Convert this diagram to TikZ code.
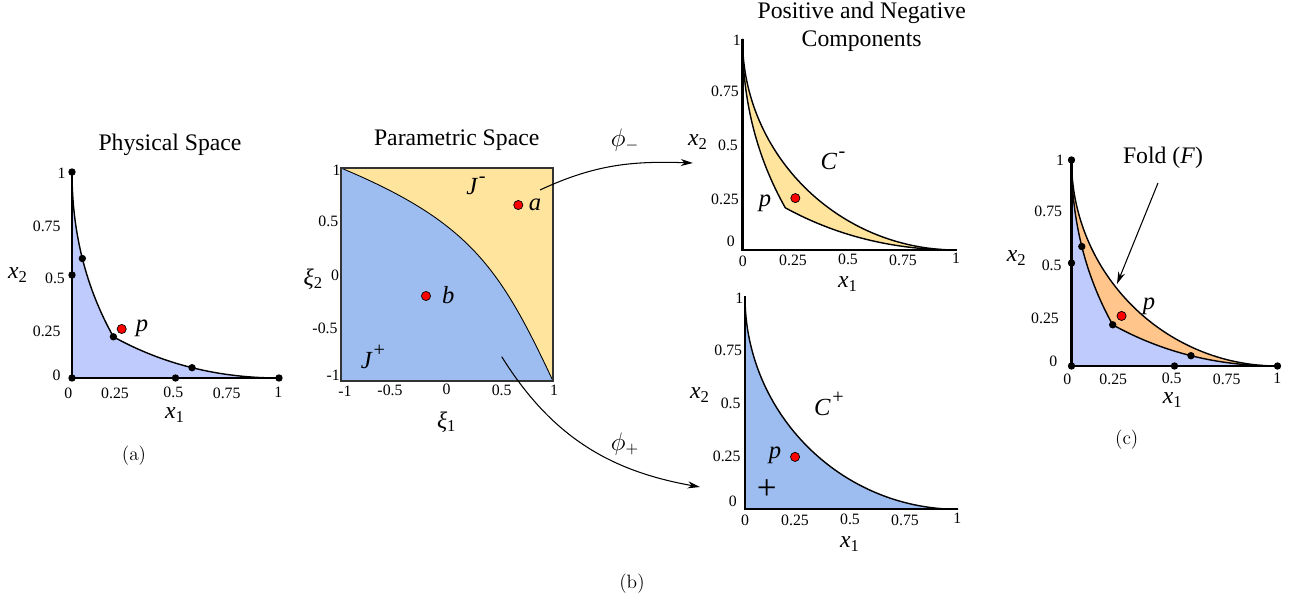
\documentclass[tikz,border=0pt]{standalone}
\usepackage{fontspec}
\usetikzlibrary{arrows.meta}
\newfontfamily\tms{Liberation Serif}

\definecolor{physblue}{HTML}{BFCBFD}
\definecolor{parblue}{HTML}{9DBDF0}
\definecolor{paryellow}{HTML}{FFE49E}
\definecolor{foldorange}{HTML}{FFC58A}

\newcommand{\axv}[2]{{\itshape #1}\textsubscript{#2}}
\newcommand{\supr}[1]{\kern1pt\raisebox{1.1ex}{\upshape\fontsize{11.5}{11.5}\selectfont #1}}

\tikzset{
  ticklbl/.style={font=\tms\fontsize{9}{10}\selectfont, inner sep=0pt},
  axlbl/.style={font=\tms\fontsize{13.5}{16}\selectfont, inner sep=0pt},
  ptlbl/.style={font=\tms\itshape\fontsize{14}{16}\selectfont, inner sep=0pt},
  ttl/.style={font=\tms\fontsize{13.5}{16}\selectfont, inner sep=0pt, align=center},
  subcap/.style={font=\fontsize{11}{13}\selectfont, inner sep=0pt},
  blackdot/.style={circle, fill=black, inner sep=0pt, minimum size=4.2pt},
  reddot/.style={circle, fill=red, draw=black, line width=0.4pt, inner sep=0pt, minimum size=5.2pt},
  axis/.style={line width=1.2pt},
  curve/.style={line width=0.8pt},
  maparrow/.style={-{Stealth[length=7pt,width=4pt]}, line width=0.6pt}
}

\begin{document}
\begin{tikzpicture}[x=0.02cm, y=-0.02cm]
    \useasboundingbox (0,0) rectangle (1296,604);

    % (a) physical space
    \begin{scope}[shift={(72,378)}, xscale=207, yscale=-206]
        \fill[physblue] (0,0) -- (0,1) .. controls (0,0.707) and (0.0667,0.44) .. (0.2,0.2)
            .. controls (0.44,0.0667) and (0.707,0) .. (1,0) -- cycle;
        \draw[curve] (0,1) .. controls (0,0.707) and (0.0667,0.44) .. (0.2,0.2)
            .. controls (0.44,0.0667) and (0.707,0) .. (1,0);
        \draw[axis] (0,1) -- (0,0) -- (1,0);
        \node[blackdot] (a1) at (0,1) {};
        \node[blackdot] (a2) at (0,0.5) {};
        \node[blackdot] (a3) at (0,0) {};
        \node[blackdot] (a4) at (0.5,0) {};
        \node[blackdot] (a5) at (1,0) {};
        \node[blackdot] (a6) at (0.05,0.58) {};
        \node[blackdot] (a7) at (0.2,0.2) {};
        \node[blackdot] (a8) at (0.58,0.05) {};
        \node[reddot] (ap) at (0.24,0.238) {};
    \end{scope}
    \node[ptlbl] (aplbl) at (142,328) {p};
    \node[ttl] (attl) at (170,145) {Physical Space};
    \node[axlbl] (ax1) at (175,415) {\axv{x}{1}};
    \node[axlbl] (ax2) at (18,275) {\axv{x}{2}};
    \node[subcap] (acap) at (134,456) {(a)};
    \foreach \t/\px/\py [count=\i] in {1/61.7/173.3, 0.75/46.7/226, 0.5/55/278, 0.25/46.7/331.7, 0/56.7/375,
        0/68.3/393.3, 0.25/115/393.3, 0.5/173.3/392.7, 0.75/226.7/393.3, 1/278.3/392.7}
        \node[ticklbl] (at\i) at (\px,\py) {\t};

    % (b) parametric space
    \fill[paryellow] (341,168) rectangle (553,381);
    \fill[parblue] (341,168) .. controls (470,222) and (500,268) .. (553,381) -- (341,381) -- cycle;
    \draw[line width=0.5pt] (341,168) .. controls (470,222) and (500,268) .. (553,381);
    \draw[line width=0.6pt, black!80] (341,168) rectangle (553,381);
    \node[reddot] (bpa) at (518.3,205) {};
    \node[reddot] (bpb) at (426,296) {};
    \node[ptlbl] (alab) at (535,205) {a};
    \node[ptlbl] (blab) at (448.3,295) {b};
    \node[ptlbl] (jminus) at (476,186) {J\supr{-}};
    \node[ptlbl] (jplus) at (373,357) {J\supr{+}};
    \node[ttl] (bttl) at (456.7,140) {Parametric Space};
    \node[axlbl] (bx1) at (446.7,422) {\axv{ξ}{1}};
    \node[axlbl] (bx2) at (313.3,279) {\axv{ξ}{2}};
    \node[subcap] (bcap) at (632,584) {(b)};
    \foreach \t/\px/\py [count=\i] in {1/336.7/170, 0.5/328.3/221.7, 0/335/275, -0.5/325/328.3, -1/333.3/375,
        -1/345/391.7, -0.5/390/390, 0/446.7/389.3, 0.5/501.7/390, 1/554/390}
        \node[ticklbl] (bt\i) at (\px,\py) {\t};

    % negative component
    \begin{scope}[shift={(742.5,250)}, xscale=214, yscale=-211]
        \fill[paryellow] (0,1) .. controls (0,0.45) and (0.45,0) .. (1,0)
            .. controls (0.707,0) and (0.44,0.0667) .. (0.2,0.2)
            .. controls (0.0667,0.44) and (0,0.707) .. (0,1) -- cycle;
        \draw[curve] (0,1) .. controls (0,0.45) and (0.45,0) .. (1,0);
        \draw[curve] (0,1) .. controls (0,0.707) and (0.0667,0.44) .. (0.2,0.2)
            .. controls (0.44,0.0667) and (0.707,0) .. (1,0);
        \draw[axis] (0,1) -- (0,0) -- (1,0);
        \node[reddot] (mp) at (0.247,0.246) {};
    \end{scope}
    \node[ptlbl] (mplbl) at (765,203) {p};
    \node[ptlbl] (cminus) at (833,161) {C\supr{-}};
    \node[ttl] (mttl) at (861.7,27) {Positive and Negative\\Components};
    \node[axlbl] (mx1) at (848,284) {\axv{x}{1}};
    \node[axlbl] (mx2) at (698,142) {\axv{x}{2}};
    \foreach \t/\px/\py [count=\i] in {1/736.7/40, 0.75/725/91.7, 0.5/728/145, 0.25/725/199, 0/730.7/241.7,
        0/742.7/261.7, 0.25/793/260, 0.5/848/259, 0.75/903/260, 1/956/258}
        \node[ticklbl] (mt\i) at (\px,\py) {\t};

    % positive component
    \begin{scope}[shift={(745,509.3)}, xscale=213, yscale=-213]
        \fill[parblue] (0,0) -- (0,1) .. controls (0,0.45) and (0.45,0) .. (1,0) -- cycle;
        \draw[curve] (0,1) .. controls (0,0.45) and (0.45,0) .. (1,0);
        \draw[axis] (0,1) -- (0,0) -- (1,0);
        \node[reddot] (pp) at (0.235,0.246) {};
    \end{scope}
    \node[ptlbl] (pplbl) at (775,455) {p};
    \node[font=\tms\fontsize{20}{20}\selectfont, inner sep=0pt] (plussign) at (766.7,490) {+};
    \node[ptlbl] (cplus) at (829,404) {C\supr{+}};
    \node[axlbl] (px1) at (850,544) {\axv{x}{1}};
    \node[axlbl] (px2) at (700,395) {\axv{x}{2}};
    \foreach \t/\px/\py [count=\i] in {1/739.3/298.3, 0.75/728.3/350, 0.5/730.7/403.3, 0.25/726.7/456.7, 0/732.7/501.7,
        0/745/520, 0.25/795/520, 0.5/850/519.3, 0.75/905/520, 1/957.3/518.3}
        \node[ticklbl] (pt\i) at (\px,\py) {\t};

    % maps
    \node[axlbl] (phiminus) at (625,140) {$\phi_-$};
    \node[axlbl] (phiplus) at (625,444) {$\phi_+$};
    \coordinate (mapmstart) at (540,190);
    \coordinate (mapmend) at (693,163);
    \coordinate (mappstart) at (501.7,356.7);
    \coordinate (mappend) at (700,487);
    \draw[maparrow] (mapmstart) to[out=25, in=178] (mapmend);
    \draw[maparrow] (mappstart) to[out=-58, in=170] (mappend);

    % (c) fold
    \begin{scope}[shift={(1071.5,366)}, xscale=206, yscale=-206]
        \fill[physblue] (0,0) -- (0,1) .. controls (0,0.707) and (0.0667,0.44) .. (0.2,0.2)
            .. controls (0.44,0.0667) and (0.707,0) .. (1,0) -- cycle;
        \fill[foldorange] (0,1) .. controls (0,0.45) and (0.45,0) .. (1,0)
            .. controls (0.707,0) and (0.44,0.0667) .. (0.2,0.2)
            .. controls (0.0667,0.44) and (0,0.707) .. (0,1) -- cycle;
        \draw[curve] (0,1) .. controls (0,0.45) and (0.45,0) .. (1,0);
        \draw[curve] (0,1) .. controls (0,0.707) and (0.0667,0.44) .. (0.2,0.2)
            .. controls (0.44,0.0667) and (0.707,0) .. (1,0);
        \draw[axis] (0,1) -- (0,0) -- (1,0);
        \node[blackdot] (c1) at (0,1) {};
        \node[blackdot] (c2) at (0,0.5) {};
        \node[blackdot] (c3) at (0,0) {};
        \node[blackdot] (c4) at (0.5,0) {};
        \node[blackdot] (c5) at (1,0) {};
        \node[blackdot] (c6) at (0.05,0.58) {};
        \node[blackdot] (c7) at (0.2,0.2) {};
        \node[blackdot] (c8) at (0.58,0.05) {};
        \node[reddot] (cp) at (0.243,0.243) {};
    \end{scope}
    \node[ptlbl] (cplbl) at (1149,306) {p};
    \node[ttl] (fold) at (1163,158) {Fold (\textit{F})};
    \coordinate (foldtail) at (1158,183);
    \coordinate (foldtip) at (1117,284);
    \draw[maparrow] (foldtail) -- (foldtip);
    \node[axlbl] (cx1) at (1172.7,400) {\axv{x}{1}};
    \node[axlbl] (cx2) at (1016.7,258) {\axv{x}{2}};
    \node[subcap] (ccap) at (1126.7,440) {(c)};
    \foreach \t/\px/\py [count=\i] in {1/1060/160, 0.75/1048.3/211.7, 0.5/1051.7/265, 0.25/1045/318.3, 0/1053.3/361.7,
        0/1067.3/379.3, 0.25/1113.3/379.3, 0.5/1171.7/378.3, 0.75/1226.7/379.3, 1/1277.3/378.3}
        \node[ticklbl] (ct\i) at (\px,\py) {\t};
\end{tikzpicture}
\end{document}
